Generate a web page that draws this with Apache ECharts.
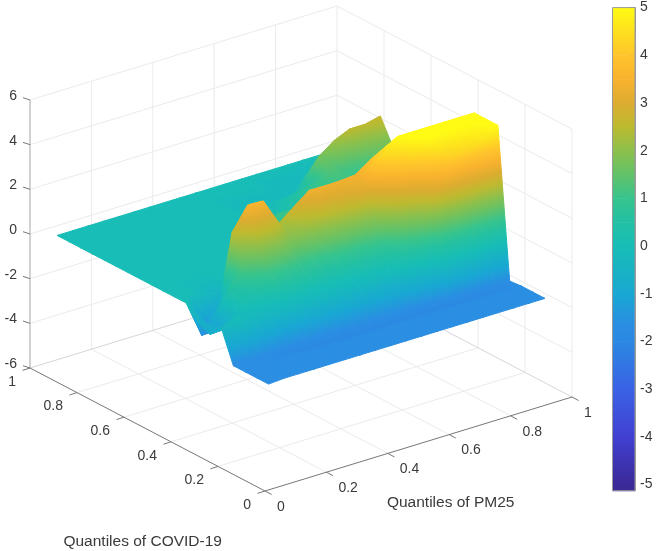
<!DOCTYPE html>
<html><head><meta charset="utf-8">
<style>html,body{margin:0;padding:0;background:#fff}#c{width:657px;height:551px}</style>
<script src="https://cdn.jsdelivr.net/npm/echarts@6/dist/echarts.min.js"></script>
</head><body><div id="c"></div>
<script>
// ---- data ----
const pm25Quantiles  = [.05,.1,.15,.2,.25,.3,.35,.4,.45,.5,.55,.6,.65,.7,.75,.8,.85,.9,.95];
const covidQuantiles = [.05,.1,.15,.2,.25,.3,.35,.4,.45,.5,.55,.6,.65,.7,.75,.8,.85,.9,.95];
// one row per COVID-19 quantile, one value per PM25 quantile
const z05 = [-1.7,-1.65,-1.65,-1.65,-1.65,-1.65,-1.65,-1.65,-1.65,-1.65,-1.65,-1.65,-1.65,-1.65,-1.65,-1.65,-1.65,-1.65,-1.65];
const z10 = [-1.7,-1.65,-1.65,-1.65,-1.65,-1.65,-1.65,-1.65,-1.65,-1.65,-1.65,-1.65,-1.65,-1.65,-1.65,-1.65,-1.65,-1.65,-1.65];
const z15 = [-1.7,-1.65,-1.65,-1.65,-1.65,-1.65,-1.65,-1.65,-1.65,-1.65,-1.65,-1.65,-1.65,-1.65,-1.65,-1.65,-1.65,-1.65,-1.65];
const z20 = [-1.7,-1.65,-1.7,-1.8,-2,-2,-2,-2,-2,-2,-2,-2,-2,-2,-2,-2,-2,-2,-1.7];
const z25 = [-.33,0,-.3,-.4,-.4,-.4,-.4,-.4,-.4,-.4,-.3,-.2,.6,1.5,3.3,4.2,4.4,4.6,5];
const z30 = [-.85,-.82,.2,.4,.9,.9,.8,.8,.9,1,1.1,1.4,2.9,4,5,5,5,5,5];
const z35 = [-.55,-1.2,.5,1.5,2.3,2.3,1.9,2.1,2.4,2.6,2.8,3.2,4.4,5,5,5,5,5,5];
const z40 = [0,-1.65,-1.5,2.55,3.55,3.52,2.28,2.83,3.36,3.35,3.36,3.42,3.9,4.16,4.2,4.2,4.2,4.2,4.2];
const z45 = [0,0,-.25,-.45,0,0,0,.3,.6,1,1,1,1,1,1,1,1,1,1];
const z50 = [0,0,-.15,-.15,0,0,0,0,.3,1,1,1,1,1,1,1,1,1,1];
const z55 = [0,0,0,0,0,0,0,0,.3,1,1,1,1,1,1,1,1,1,1];
const z60 = [0,0,0,0,0,0,0,0,.3,1,1,1,1,1,1,1,1,1,1];
const z65 = [0,0,0,0,0,0,0,0,0,0,.2,.5,1,1,1,1,1,1,1];
const z70 = [0,0,0,0,0,0,0,0,0,0,.1,.2,.6,1,1.3,1.1,1.2,1.5,1.64];
const z75 = [0,0,0,0,0,0,0,0,0,0,0,0,.3,.4,1.7,2.2,2.5,2.5,2.66];
const z80 = [0,0,0,0,0,0,0,0,0,0,-.2,-.2,-.2,-.2,-.2,0,0,0,0];
const z85 = [0,0,0,0,0,0,0,0,0,0,-.2,-.2,-.2,-.2,-.2,-.2,0,0,0];
const z90 = [0,0,0,0,0,0,0,0,0,0,0,0,0,-.2,-.2,-.2,-.2,0,0];
const z95 = [0,0,0,0,0,0,0,0,0,0,0,0,0,0,0,0,0,0,0];
const surfaceRows = [z05,z10,z15,z20,z25,z30,z35,z40,z45,z50,z55,z60,z65,z70,z75,z80,z85,z90,z95];

const xTicks = [0,.2,.4,.6,.8,1];
const yTicks = [0,.2,.4,.6,.8,1];
const zTicks = [-6,-4,-2,0,2,4,6];
const barTicks = [-5,-4,-3,-2,-1,0,1,2,3,4,5];

const colorValues = [-5.13,-5,-4,-3,-2,-1.65,-1,0,.5,1,1.5,2,2.5,3,3.5,4,4.5,5];
const colorHexes = ['#392a94','#3b2a98','#4140d2','#3a62e4','#2b88e2','#2a8ee2','#18a8d2','#17bdb6','#22c0a4','#36c48e','#62c268','#8cc04c','#bcba30','#dcac30','#f8b22e','#ffc42c','#fde01e','#fffb14'];

// ---- view: where the corners of the 3-D box fall on the page ----
const FRONT = [265,491], RIGHT = [572,397], LEFT = [30,368], Z_SPAN = 268, Z_MIN = -6;
const project = (x,y,z)=>[
  FRONT[0]+x*(RIGHT[0]-FRONT[0])+y*(LEFT[0]-FRONT[0]),
  FRONT[1]+x*(RIGHT[1]-FRONT[1])+y*(LEFT[1]-FRONT[1])-(z-Z_MIN)/12*Z_SPAN];

const hex2rgb=h=>[1,3,5].map(i=>parseInt(h.substr(i,2),16));
const colorAt=v=>{
  if(v<=colorValues[0])return colorHexes[0];
  for(let i=1;i<colorValues.length;i++){ if(v<=colorValues[i]){
    const t=(v-colorValues[i-1])/(colorValues[i]-colorValues[i-1]);
    const a=hex2rgb(colorHexes[i-1]),b=hex2rgb(colorHexes[i]);
    return 'rgb('+a.map((c,k)=>Math.round(c+(b[k]-c)*t)).join(',')+')';
  }}
  return colorHexes[colorHexes.length-1];
};

// triangles, far to near; cells listed here are split along their other diagonal
const otherDiagonal = ['0,7','2,7'];
const tris=[];
for(let j=surfaceRows.length-2;j>=0;j--){
  for(let i=pm25Quantiles.length-2;i>=0;i--){
    const v=(a,b)=>[pm25Quantiles[a],covidQuantiles[b],surfaceRows[b][a]];
    if(otherDiagonal.includes(i+','+j)){
      tris.push([...v(i,j),...v(i+1,j+1),...v(i,j+1)]);
      tris.push([...v(i,j),...v(i+1,j),...v(i+1,j+1)]);
    } else {
      tris.push([...v(i+1,j),...v(i+1,j+1),...v(i,j+1)]);
      tris.push([...v(i,j),...v(i+1,j),...v(i,j+1)]);
    }
  }
}

function triFill(P,Z){
  const zmin=Math.min(...Z),zmax=Math.max(...Z);
  if(zmax-zmin<1e-6)return colorAt(zmin);
  const [x1,y1]=P[0],[x2,y2]=P[1],[x3,y3]=P[2];
  const det=(x2-x1)*(y3-y1)-(x3-x1)*(y2-y1);
  if(Math.abs(det)<1e-3)return colorAt((zmin+zmax)/2);
  const dz2=Z[1]-Z[0],dz3=Z[2]-Z[0];
  const a=(dz2*(y3-y1)-dz3*(y2-y1))/det, b=(dz3*(x2-x1)-dz2*(x3-x1))/det;
  const n=a*a+b*b;
  const k=Z.indexOf(zmin), s=P[k];
  const d=(zmax-zmin)/n;
  const stops=[{offset:0,color:colorAt(zmin)}];
  colorValues.forEach(v=>{ if(v>zmin&&v<zmax) stops.push({offset:(v-zmin)/(zmax-zmin),color:colorAt(v)}); });
  stops.push({offset:1,color:colorAt(zmax)});
  return new echarts.graphic.LinearGradient(s[0],s[1],s[0]+a*d,s[1]+b*d,stops,true);
}

// box lines: [x1,y1,z1,x2,y2,z2,color,width]
const GRID='#ebebef', AXIS='#77777a', ZAX='#b4b4b8';
const seg=[];
[.2,.4,.6,.8].forEach(t=>{
  seg.push([t,1,-6,t,1,6,GRID,1]);
  seg.push([1,t,-6,1,t,6,GRID,1]);
  seg.push([t,0,-6,t,1,-6,GRID,1]);
  seg.push([0,t,-6,1,t,-6,GRID,1]);
});
zTicks.slice(1,-1).forEach(z=>{
  seg.push([0,1,z,1,1,z,GRID,1]);
  seg.push([1,1,z,1,0,z,GRID,1]);
});
seg.push([0,1,6,1,1,6,GRID,1],[1,1,6,1,0,6,GRID,1],[1,0,-6,1,0,6,GRID,1],[1,1,-6,1,1,6,GRID,1]);
seg.push([0,1,-6,1,1,-6,'#d6d6da',1],[1,1,-6,1,0,-6,'#d6d6da',1]);
seg.push([0,0,-6,1,0,-6,AXIS,1],[0,0,-6,0,1,-6,AXIS,1],[0,1,-6,0,1,6,ZAX,1.2]);
const ticks=[];
xTicks.forEach(t=>ticks.push([t,0,-6,6.6,3.5]));
yTicks.forEach(t=>ticks.push([0,t,-6,-7.5,2.4]));
zTicks.forEach(z=>ticks.push([0,1,z,-7,-2.3]));

const labels=[];
xTicks.forEach(t=>labels.push([String(t),t,0,-6,12,16,'left']));
yTicks.forEach(t=>labels.push([String(t),0,t,-6,-14,14,'right']));
zTicks.forEach(z=>labels.push([String(z),0,1,z,-13,-4,'right']));

const font='"Liberation Sans", Arial, sans-serif';
const chart=echarts.init(document.getElementById('c'),null,{renderer:'canvas'});
chart.setOption({
  animation:false,
  backgroundColor:'#fff',
  grid:[
    {left:0,right:0,top:0,bottom:0,containLabel:false},
    {left:612.5,width:22.5,top:7.6,height:483.1,containLabel:false}
  ],
  xAxis:[
    {gridIndex:0,type:'value',min:0,max:657,show:false},
    {gridIndex:1,type:'value',min:0,max:1,show:false}
  ],
  yAxis:[
    {gridIndex:0,type:'value',min:0,max:551,inverse:true,show:false},
    {gridIndex:1,type:'value',min:colorValues[0],max:5,position:'right',
     axisLine:{show:true,onZero:false,lineStyle:{color:'#9a9a9a',width:1}},
     axisTick:{show:true,inside:true,length:5,lineStyle:{color:'#666'},customValues:barTicks},
     axisLabel:{show:true,margin:5,color:'#3a3a3a',fontSize:14,fontFamily:font,padding:[3,0,0,0],customValues:barTicks,showMinLabel:true,showMaxLabel:true},
     splitLine:{show:false}}
  ],
  series:[
    {type:'custom',coordinateSystem:'cartesian2d',xAxisIndex:0,yAxisIndex:0,silent:true,clip:false,z:1,
     data:seg.map((s,i)=>[i]),
     renderItem(p,api){
       const s=seg[p.dataIndex];
       const a=api.coord(project(s[0],s[1],s[2])),b=api.coord(project(s[3],s[4],s[5]));
       return {type:'line',shape:{x1:a[0],y1:a[1],x2:b[0],y2:b[1]},style:{stroke:s[6],lineWidth:s[7]}};
     }},
    {type:'custom',coordinateSystem:'cartesian2d',xAxisIndex:0,yAxisIndex:0,silent:true,clip:false,z:1,
     data:ticks.map((s,i)=>[i]),
     renderItem(p,api){
       const s=ticks[p.dataIndex];
       const a=api.coord(project(s[0],s[1],s[2]));
       return {type:'line',shape:{x1:a[0],y1:a[1],x2:a[0]+s[3],y2:a[1]+s[4]},style:{stroke:'#77777a',lineWidth:1}};
     }},
    {type:'custom',coordinateSystem:'cartesian2d',xAxisIndex:0,yAxisIndex:0,silent:true,clip:false,z:2,
     progressive:0,
     data:tris.map((s,i)=>[i]),
     renderItem(p,api){
       const t=tris[p.dataIndex];
       const P=[0,3,6].map(k=>api.coord(project(t[k],t[k+1],t[k+2])));
       const Z=[t[2],t[5],t[8]];
       const f=triFill(P,Z);
       return {type:'polygon',shape:{points:P},style:{fill:f,stroke:f,lineWidth:1,lineJoin:'round'}};
     }},
    {type:'custom',coordinateSystem:'cartesian2d',xAxisIndex:0,yAxisIndex:0,silent:true,clip:false,z:3,
     data:labels.map((s,i)=>[i]),
     renderItem(p,api){
       const s=labels[p.dataIndex];
       const a=api.coord(project(s[1],s[2],s[3]));
       return {type:'text',x:a[0]+s[4],y:a[1]+s[5],style:{text:s[0],fill:'#3a3a3a',font:'14px '+font,align:s[6],verticalAlign:'middle'}};
     }},
    {type:'custom',coordinateSystem:'cartesian2d',xAxisIndex:1,yAxisIndex:1,silent:true,clip:false,z:1,
     data:colorValues.slice(1).map((v,i)=>[colorValues[i],v]),
     renderItem(p,api){
       const a=api.coord([0,api.value(1)]),b=api.coord([1,api.value(0)]);
       return {type:'rect',shape:{x:a[0],y:a[1],width:b[0]-a[0],height:b[1]-a[1]+.5},
         style:{fill:new echarts.graphic.LinearGradient(0,a[1],0,b[1],[{offset:0,color:colorAt(api.value(1))},{offset:1,color:colorAt(api.value(0))}],true)}};
     }},
  ],
  graphic:[
    {type:'text',x:142.7,y:541.7,style:{text:'Quantiles of COVID-19',fill:'#3a3a3a',font:'15.5px '+font,align:'center',verticalAlign:'middle'}},
    {type:'text',x:450.7,y:502.7,style:{text:'Quantiles of PM25',fill:'#3a3a3a',font:'15.5px '+font,align:'center',verticalAlign:'middle'}},
    {type:'rect',shape:{x:612.5,y:7.6,width:22.5,height:483.1},style:{fill:'none',stroke:'#9a9a9a',lineWidth:1},z:10}
  ]
});
</script></body></html>
